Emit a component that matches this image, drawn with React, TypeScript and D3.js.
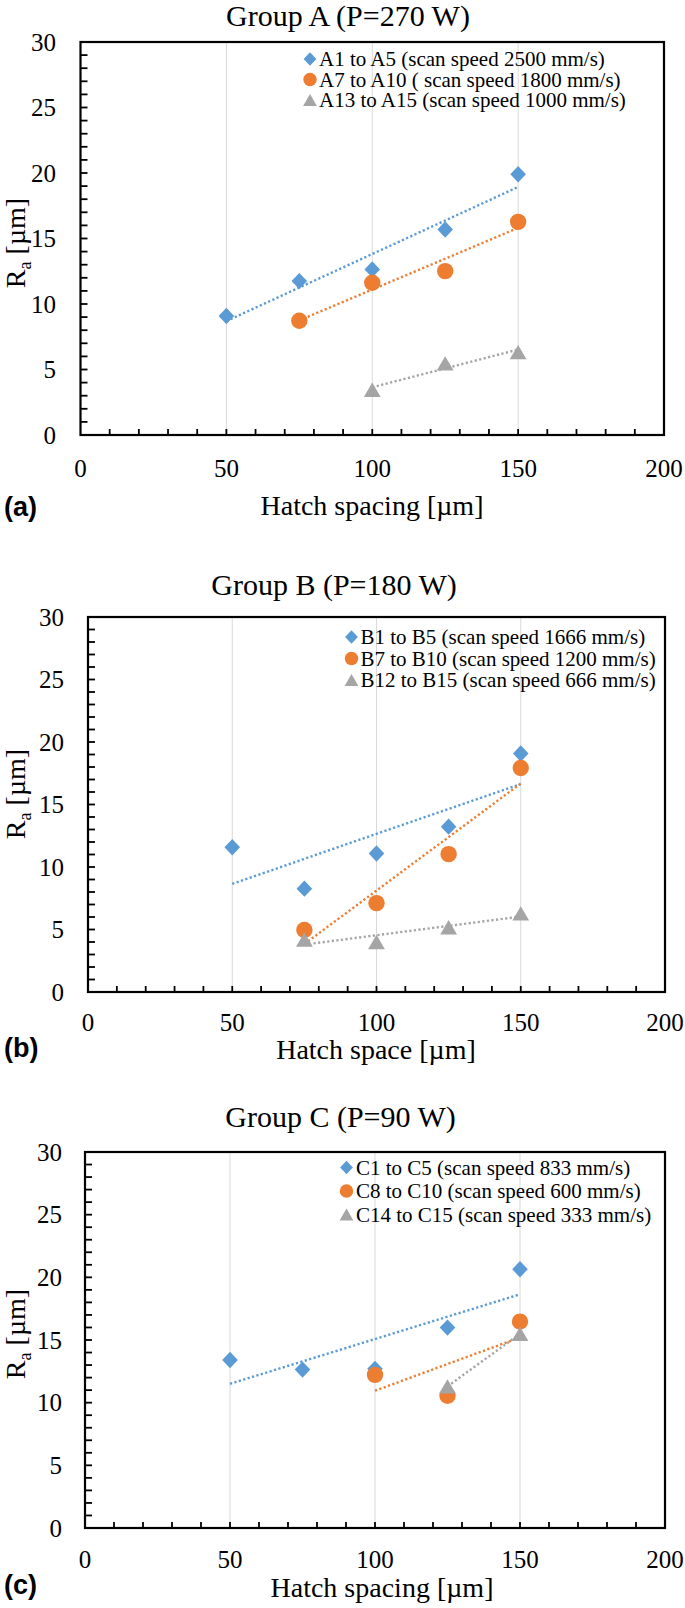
import React from "react";
import * as d3 from "d3";

// ---------- data ----------
const xTicks = [0, 50, 100, 150, 200];
const yTicks = [0, 5, 10, 15, 20, 25, 30];

const aTitle = "Group A (P=270 W)";
const aXLabel = "Hatch spacing [µm]";
const aTag = "(a)";
const aNames = [
  "A1 to A5 (scan speed 2500 mm/s)",
  "A7 to A10 ( scan speed 1800 mm/s)",
  "A13 to A15 (scan speed 1000 mm/s)",
];
const aBlueX = [50, 75, 100, 125, 150];
const aBlueY = [9.08, 11.75, 12.64, 15.69, 19.91];
const aOrangeX = [75, 100, 125, 150];
const aOrangeY = [8.72, 11.62, 12.51, 16.27];
const aGrayX = [100, 125, 150];
const aGrayY = [3.45, 5.47, 6.33];

const bTitle = "Group B (P=180 W)";
const bXLabel = "Hatch space [µm]";
const bTag = "(b)";
const bNames = [
  "B1 to B5 (scan speed 1666 mm/s)",
  "B7 to B10 (scan speed 1200 mm/s)",
  "B12 to B15 (scan speed 666 mm/s)",
];
const bBlueX = [50, 75, 100, 125, 150];
const bBlueY = [11.58, 8.27, 11.08, 13.23, 19.08];
const bOrangeX = [75, 100, 125, 150];
const bOrangeY = [4.96, 7.11, 11.03, 17.92];
const bGrayX = [75, 100, 125, 150];
const bGrayY = [4.19, 4.0, 5.18, 6.29];

const cTitle = "Group C (P=90 W)";
const cXLabel = "Hatch spacing [µm]";
const cTag = "(c)";
const cNames = [
  "C1 to C5 (scan speed 833 mm/s)",
  "C8 to C10 (scan speed 600 mm/s)",
  "C14 to C15 (scan speed 333 mm/s)",
];
const cBlueX = [50, 75, 100, 125, 150];
const cBlueY = [13.4, 12.64, 12.7, 15.99, 20.65];
const cOrangeX = [100, 125, 150];
const cOrangeY = [12.22, 10.55, 16.47];
const cGrayX = [125, 150];
const cGrayY = [11.3, 15.49];

const COLORS = ["#5B9BD5", "#ED7D31", "#A5A5A5"];
const SERIF = "'Liberation Serif', 'Times New Roman', serif";
const SANS = "'Liberation Sans', Arial, sans-serif";

type Series = { xs: number[]; ys: number[] };

type Layout = {
  left: number;
  right: number;
  top: number;
  bottom: number;
  titleX: number;
  titleY: number;
  yTickRight: number;
  xTickY: number;
  tagY: number;
  xLabelX: number;
  xLabelY: number;
  yLabelCY: number;
  legMarkX: number;
  legTextX: number;
  legRows: number[];
};

function regression(xs: number[], ys: number[]) {
  const mx = d3.mean(xs) as number;
  const my = d3.mean(ys) as number;
  let num = 0;
  let den = 0;
  xs.forEach((x, i) => {
    num += (x - mx) * (ys[i] - my);
    den += (x - mx) * (x - mx);
  });
  const slope = den === 0 ? 0 : num / den;
  return (x: number) => my + slope * (x - mx);
}

function marker(kind: number, cx: number, cy: number, s: number, color: string, key: string) {
  if (kind === 0) {
    const hw = 7.8 * s;
    const hh = 8.2 * s;
    return (
      <path
        key={key}
        d={`M${cx},${cy - hh}L${cx + hw},${cy}L${cx},${cy + hh}L${cx - hw},${cy}Z`}
        fill={color}
      />
    );
  }
  if (kind === 1) {
    return <circle key={key} cx={cx} cy={cy} r={8.2 * s} fill={color} />;
  }
  const hw = 8.4 * s;
  const hh = 7.2 * s;
  return (
    <path
      key={key}
      d={`M${cx},${cy - hh}L${cx + hw},${cy + hh}L${cx - hw},${cy + hh}Z`}
      fill={color}
    />
  );
}

function Panel({
  L,
  title,
  xLabel,
  tag,
  names,
  series,
}: {
  L: Layout;
  title: string;
  xLabel: string;
  tag: string;
  names: string[];
  series: Series[];
}) {
  const x = d3.scaleLinear().domain([0, 200]).range([L.left, L.right]);
  const y = d3.scaleLinear().domain([0, 30]).range([L.bottom, L.top]);
  const yMinor = d3.range(1, 30, 1);
  const xMinor = d3.range(10, 200, 10);
  const grid = [50, 100, 150];
  const line = d3
    .line<[number, number]>()
    .x((d) => x(d[0]))
    .y((d) => y(d[1]));

  return (
    <g>
      <text x={L.titleX} y={L.titleY} textAnchor="middle" fontFamily={SERIF} fontSize={30} fill="#000">
        {title}
      </text>
      {grid.map((g) => (
        <line key={"g" + g} x1={x(g)} x2={x(g)} y1={L.top} y2={L.bottom} stroke="#D9D9D9" strokeWidth={1} />
      ))}
      {yMinor.map((v) => (
        <line key={"ym" + v} x1={L.left} x2={L.left + 7} y1={y(v)} y2={y(v)} stroke="#000" strokeWidth={1.8} />
      ))}
      {xMinor.map((v) => (
        <line key={"xm" + v} x1={x(v)} x2={x(v)} y1={L.bottom} y2={L.bottom - 6} stroke="#000" strokeWidth={1.8} />
      ))}
      <rect
        x={L.left}
        y={L.top}
        width={L.right - L.left}
        height={L.bottom - L.top}
        fill="none"
        stroke="#000"
        strokeWidth={2.2}
      />
      {yTicks.map((v) => (
        <text
          key={"yt" + v}
          x={L.yTickRight}
          y={y(v) + 8.5}
          textAnchor="end"
          fontFamily={SERIF}
          fontSize={25}
          fill="#000"
        >
          {v}
        </text>
      ))}
      {xTicks.map((v) => (
        <text key={"xt" + v} x={x(v)} y={L.xTickY} textAnchor="middle" fontFamily={SERIF} fontSize={25} fill="#000">
          {v}
        </text>
      ))}
      <text x={L.xLabelX} y={L.xLabelY} textAnchor="middle" fontFamily={SERIF} fontSize={28} fill="#000">
        {xLabel}
      </text>
      <text
        transform={`translate(25,${L.yLabelCY}) rotate(-90)`}
        textAnchor="middle"
        fontFamily={SERIF}
        fontSize={28}
        fill="#000"
      >
        R
        <tspan fontSize={18} dy={6}>
          a
        </tspan>
        <tspan dy={-6}> [µm]</tspan>
      </text>
      <text x={4} y={L.tagY} fontFamily={SANS} fontWeight="bold" fontSize={27} fill="#000">
        {tag}
      </text>
      {series.map((s, i) => {
        const f = regression(s.xs, s.ys);
        const x0 = d3.min(s.xs) as number;
        const x1 = d3.max(s.xs) as number;
        return (
          <path
            key={"tl" + i}
            d={line([
              [x0, f(x0)],
              [x1, f(x1)],
            ]) as string}
            fill="none"
            stroke={COLORS[i]}
            strokeWidth={2.4}
            strokeDasharray="2.2 2.4"
          />
        );
      })}
      {series.map((s, i) => (
        <g key={"s" + i}>{s.xs.map((xv, j) => marker(i, x(xv), y(s.ys[j]), 1, COLORS[i], `m${i}-${j}`))}</g>
      ))}
      {names.map((n, i) => (
        <g key={"lg" + i}>
          {marker(i, L.legMarkX, L.legRows[i], 0.82, COLORS[i], "lm" + i)}
          <text x={L.legTextX} y={L.legRows[i] + 7} fontFamily={SERIF} fontSize={21} fill="#000">
            {n}
          </text>
        </g>
      ))}
    </g>
  );
}

const layoutA: Layout = {
  left: 80.5,
  right: 664,
  top: 42,
  bottom: 435,
  titleX: 348,
  titleY: 26,
  yTickRight: 56,
  xTickY: 477,
  tagY: 516,
  xLabelX: 372,
  xLabelY: 515,
  yLabelCY: 243,
  legMarkX: 310,
  legTextX: 319,
  legRows: [59, 79.5, 100],
};

const layoutB: Layout = {
  left: 88,
  right: 665,
  top: 617,
  bottom: 992,
  titleX: 334,
  titleY: 595,
  yTickRight: 64,
  xTickY: 1031,
  tagY: 1057,
  xLabelX: 376,
  xLabelY: 1059,
  yLabelCY: 794,
  legMarkX: 351.5,
  legTextX: 360.5,
  legRows: [637, 658.5, 680],
};

const layoutC: Layout = {
  left: 85,
  right: 665,
  top: 1152,
  bottom: 1528,
  titleX: 340.5,
  titleY: 1127,
  yTickRight: 62,
  xTickY: 1568,
  tagY: 1594,
  xLabelX: 382,
  xLabelY: 1597,
  yLabelCY: 1334,
  legMarkX: 346.5,
  legTextX: 356,
  legRows: [1167.5, 1191, 1214.5],
};

export default function App() {
  const seriesA: Series[] = [
    { xs: aBlueX, ys: aBlueY },
    { xs: aOrangeX, ys: aOrangeY },
    { xs: aGrayX, ys: aGrayY },
  ];
  const seriesB: Series[] = [
    { xs: bBlueX, ys: bBlueY },
    { xs: bOrangeX, ys: bOrangeY },
    { xs: bGrayX, ys: bGrayY },
  ];
  const seriesC: Series[] = [
    { xs: cBlueX, ys: cBlueY },
    { xs: cOrangeX, ys: cOrangeY },
    { xs: cGrayX, ys: cGrayY },
  ];
  return (
    <div style={{ position: "absolute", left: 0, top: 0, width: 685, height: 1608, background: "#fff" }}>
      <svg width={685} height={1608} viewBox="0 0 685 1608" style={{ display: "block" }}>
        <rect x={0} y={0} width={685} height={1608} fill="#fff" />
        <Panel L={layoutA} title={aTitle} xLabel={aXLabel} tag={aTag} names={aNames} series={seriesA} />
        <Panel L={layoutB} title={bTitle} xLabel={bXLabel} tag={bTag} names={bNames} series={seriesB} />
        <Panel L={layoutC} title={cTitle} xLabel={cXLabel} tag={cTag} names={cNames} series={seriesC} />
      </svg>
    </div>
  );
}
